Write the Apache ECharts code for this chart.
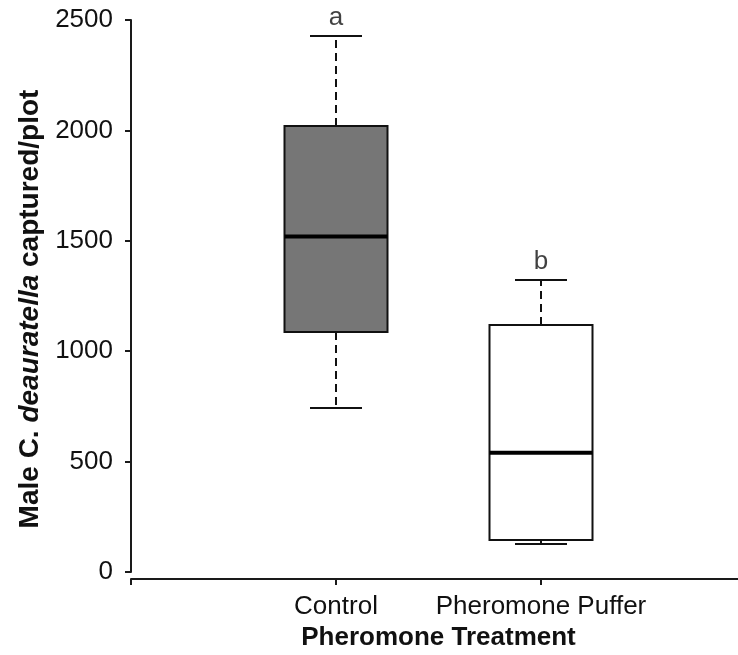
<!DOCTYPE html>
<html>
<head>
<meta charset="utf-8">
<script src="https://cdn.jsdelivr.net/npm/echarts@6/dist/echarts.min.js"></script>
<style>
html,body{margin:0;padding:0;background:#fff;}
#chart{width:738px;height:655px;}
</style>
</head>
<body>
<div id="chart"></div>
<script>
// ---- data ----
const categories = ['', 'Control', 'Pheromone Puffer', ''];
const boxCategoryIndex = [1, 2];
const mins    = [743, 127];
const q1s     = [1087, 145];
const medians = [1520, 540];
const q3s     = [2020, 1119];
const maxs    = [2428, 1322];
const letters = ['a', 'b'];
const yTicks  = [0, 500, 1000, 1500, 2000, 2500];

// ---- style ----
const fills = ['#767676', '#ffffff'];
const FONT = 'Liberation Sans, Arial, Helvetica, sans-serif';
const BOX_W = 103, CAP_W = 52;

const boxData = boxCategoryIndex.map((c, i) => [c, mins[i], q1s[i], medians[i], q3s[i], maxs[i], i]);
const letterData = boxCategoryIndex.map((c, i) => ({ value: [c, maxs[i]], label: { formatter: letters[i] } }));

const chart = echarts.init(document.getElementById('chart'));
chart.setOption({
  animation: false,
  backgroundColor: '#fff',
  grid: { left: 131, top: 20, width: 615, height: 552, containLabel: false, outerBoundsMode: 'none' },
  xAxis: {
    type: 'category',
    data: categories,
    boundaryGap: false,
    offset: 7,
    axisLine: { onZero: false, lineStyle: { color: '#1a1a1a', width: 2 } },
    axisTick: { show: true, length: 6, lineStyle: { color: '#1a1a1a', width: 2 } },
    axisLabel: { show: true, interval: 0, color: '#111', fontFamily: FONT, fontSize: 26, margin: 15 },
    splitLine: { show: false },
    name: 'Pheromone Treatment',
    nameLocation: 'middle',
    nameGap: 45,
    nameTextStyle: { color: '#111', fontFamily: FONT, fontSize: 26, fontWeight: 'bold' }
  },
  yAxis: {
    type: 'value',
    min: yTicks[0],
    max: yTicks[yTicks.length - 1],
    interval: 500,
    axisLine: { show: true, onZero: false, lineStyle: { color: '#1a1a1a', width: 2 } },
    axisTick: { show: true, length: 6, lineStyle: { color: '#1a1a1a', width: 2 } },
    axisLabel: { color: '#111', fontFamily: FONT, fontSize: 26, margin: 18, formatter: v => String(v) },
    splitLine: { show: false },
    name: '{b|Male C. }{i|deauratella}{b| captured/plot}',
    nameLocation: 'middle',
    nameGap: 84,
    nameRotate: 90,
    nameTextStyle: {
      padding: [0, 26, 0, 0],
      rich: {
        b: { color: '#111', fontFamily: FONT, fontSize: 28, fontWeight: 'bold' },
        i: { color: '#111', fontFamily: FONT, fontSize: 28, fontWeight: 'bold', fontStyle: 'italic' }
      }
    }
  },
  series: [
    {
      type: 'custom',
      data: boxData,
      encode: { x: 0, y: [1, 2, 3, 4, 5] },
      clip: false,
      renderItem: function (params, api) {
        const x = api.value(0);
        const pMin = api.coord([x, api.value(1)]);
        const pQ1 = api.coord([x, api.value(2)]);
        const pMed = api.coord([x, api.value(3)]);
        const pQ3 = api.coord([x, api.value(4)]);
        const pMax = api.coord([x, api.value(5)]);
        const cx = pMin[0];
        const fill = fills[api.value(6)];
        const solid = { stroke: '#111', lineWidth: 2, fill: null };
        const dashed = { stroke: '#111', lineWidth: 2, lineDash: [8, 5], fill: null };
        return {
          type: 'group',
          children: [
            { type: 'line', shape: { x1: cx, y1: pQ3[1], x2: cx, y2: pMax[1] }, style: dashed },
            { type: 'line', shape: { x1: cx, y1: pQ1[1], x2: cx, y2: pMin[1] }, style: dashed },
            { type: 'line', shape: { x1: cx - CAP_W / 2, y1: pMax[1], x2: cx + CAP_W / 2, y2: pMax[1] }, style: solid },
            { type: 'line', shape: { x1: cx - CAP_W / 2, y1: pMin[1], x2: cx + CAP_W / 2, y2: pMin[1] }, style: solid },
            { type: 'rect', shape: { x: cx - BOX_W / 2, y: pQ3[1], width: BOX_W, height: pQ1[1] - pQ3[1] },
              style: { fill: fill, stroke: '#111', lineWidth: 2 } },
            { type: 'line', shape: { x1: cx - BOX_W / 2, y1: pMed[1], x2: cx + BOX_W / 2, y2: pMed[1] },
              style: { stroke: '#000', lineWidth: 4 } }
          ]
        };
      }
    },
    {
      type: 'scatter',
      data: letterData,
      symbolSize: 0,
      silent: true,
      label: {
        show: true,
        position: 'top',
        distance: 5,
        color: '#111',
        fontFamily: FONT,
        fontSize: 26
      }
    }
  ]
});
</script>
</body>
</html>
